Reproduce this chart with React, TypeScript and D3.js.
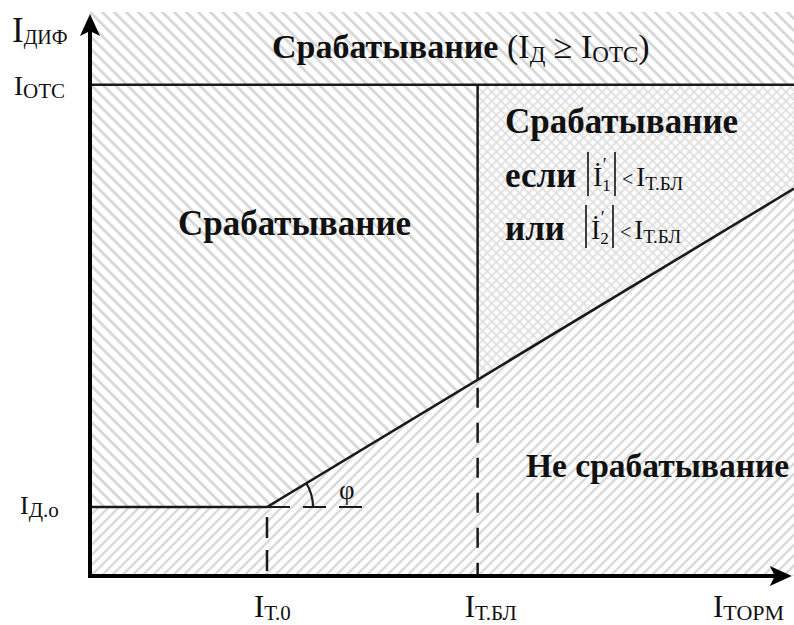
import React from "react";
import * as d3 from "d3";

const W = 794;
const H = 625;

// Characteristic parameters, in relative units of the restraint / differential current
const restraintKnees = [1.0, 2.19]; // IТ.0, IТ.БЛ
const diffLevels = [1.0, 7.12]; // IД.о, IОТС
const slopeK = 1.55; // tg φ in relative units
const axisTips = [3.965, 8.145]; // arrow tips of X and Y axes

const xTickLabels = [
  { value: 1.0, main: "I", sub: "Т.0" },
  { value: 2.19, main: "I", sub: "Т.БЛ" },
];
const yTickLabels = [
  { value: 1.0, main: "I", sub: "Д.о" },
  { value: 7.12, main: "I", sub: "ОТС" },
];

const FONT = "'Liberation Serif', 'Times New Roman', serif";

const x = d3.scaleLinear().domain([0, 4]).range([90, 798]);
const y = d3.scaleLinear().domain([0, 8]).range([576, 24]);

const charAt = (v: number) =>
  v <= restraintKnees[0] ? diffLevels[0] : diffLevels[0] + slopeK * (v - restraintKnees[0]);

function SubLabel(props: {
  px: number;
  py: number;
  main: string;
  sub: string;
  size: number;
  subSize: number;
  subDy: number;
}) {
  const { px, py, main, sub, size, subSize, subDy } = props;
  return (
    <text x={px} y={py} fontFamily={FONT} fontSize={size} fill="#111">
      <tspan>{main}</tspan>
      <tspan dy={subDy} fontSize={subSize}>
        {sub}
      </tspan>
    </text>
  );
}

export default function App() {
  const xEdge = x.invert(W);
  const yTop = y.invert(12);
  const [t0, tbl] = restraintKnees;
  const [d0, dOts] = diffLevels;

  const poly = d3
    .line<[number, number]>()
    .x((d) => x(d[0]))
    .y((d) => y(d[1]));

  const closed = (pts: [number, number][]) => poly(pts) + "Z";

  const topRegion: [number, number][] = [
    [0, dOts],
    [xEdge, dOts],
    [xEdge, yTop],
    [0, yTop],
  ];
  const leftRegion: [number, number][] = [
    [0, d0],
    [t0, d0],
    [tbl, charAt(tbl)],
    [tbl, dOts],
    [0, dOts],
  ];
  const crossRegion: [number, number][] = [
    [tbl, charAt(tbl)],
    [xEdge, charAt(xEdge)],
    [xEdge, dOts],
    [tbl, dOts],
  ];
  const lowRegion: [number, number][] = [
    [0, 0],
    [xEdge, 0],
    [xEdge, charAt(xEdge)],
    [t0, d0],
    [0, d0],
  ];

  const charLine: [number, number][] = [
    [0, d0],
    [t0, d0],
    [xEdge, charAt(xEdge)],
  ];

  // angle marker φ
  const cx = x(t0);
  const cy = y(d0);
  const ang = Math.atan2(y(charAt(t0 + 1)) - cy, x(t0 + 1) - cx);
  const r = 46;
  const arcPath = d3.path();
  arcPath.moveTo(cx + r * Math.cos(ang), cy + r * Math.sin(ang));
  arcPath.arc(cx, cy, r, ang, 0, false);

  const ox = x(0);
  const oy = y(0);
  const tipX = x(axisTips[0]);
  const tipY = y(axisTips[1]);

  const bars = (bx: number, top: number, bottom: number) => (
    <line x1={bx} x2={bx} y1={top} y2={bottom} stroke="#111" strokeWidth={1.6} />
  );

  return (
    <svg
      width={W}
      height={H}
      viewBox={`0 0 ${W} ${H}`}
      style={{ position: "absolute", left: 0, top: 0, background: "#fff" }}
    >
      <defs>
        <pattern id="hatchBack" width={8.5} height={10} patternUnits="userSpaceOnUse" patternTransform="rotate(-45)">
          <line x1={4.25} y1={-1} x2={4.25} y2={11} stroke="#d8d8d8" strokeWidth={2.8} />
        </pattern>
        <pattern id="hatchFwd" width={7.2} height={10} patternUnits="userSpaceOnUse" patternTransform="rotate(45)">
          <line x1={3.6} y1={-1} x2={3.6} y2={11} stroke="#d6d6d6" strokeWidth={2.3} />
        </pattern>
        <pattern id="hatchCross" width={6.5} height={6.5} patternUnits="userSpaceOnUse" patternTransform="rotate(45)">
          <line x1={3.25} y1={-1} x2={3.25} y2={7.5} stroke="#dedede" strokeWidth={1.8} />
          <line x1={-1} y1={3.25} x2={7.5} y2={3.25} stroke="#dedede" strokeWidth={1.8} />
        </pattern>
      </defs>

      {/* shaded zones */}
      <path d={closed(topRegion)} fill="url(#hatchBack)" />
      <path d={closed(leftRegion)} fill="url(#hatchBack)" />
      <path d={closed(crossRegion)} fill="url(#hatchCross)" />
      <path d={closed(lowRegion)} fill="url(#hatchFwd)" />

      {/* cut-off level */}
      <line x1={ox} x2={W} y1={y(dOts)} y2={y(dOts)} stroke="#1a1a1a" strokeWidth={2.5} />
      {/* blocking boundary */}
      <line x1={x(tbl)} x2={x(tbl)} y1={y(dOts)} y2={y(charAt(tbl))} stroke="#1a1a1a" strokeWidth={2.5} />
      <line
        x1={x(tbl)}
        x2={x(tbl)}
        y1={y(charAt(tbl))}
        y2={oy}
        stroke="#1a1a1a"
        strokeWidth={2.5}
        strokeDasharray="20,15"
        strokeDashoffset={-8}
      />
      <line
        x1={x(t0)}
        x2={x(t0)}
        y1={y(d0)}
        y2={oy}
        stroke="#1a1a1a"
        strokeWidth={2.5}
        strokeDasharray="21,12"
        strokeDashoffset={-10}
      />

      {/* operating characteristic */}
      <path d={poly(charLine) || ""} fill="none" stroke="#1a1a1a" strokeWidth={2.6} />

      {/* angle φ */}
      <line x1={cx} x2={cx + 96} y1={cy} y2={cy} stroke="#1a1a1a" strokeWidth={2.2} strokeDasharray="23,13" />
      <path d={arcPath.toString()} fill="none" stroke="#1a1a1a" strokeWidth={2.2} />
      <text x={339} y={499} fontFamily={FONT} fontSize={27} fill="#111">
        φ
      </text>

      {/* axes */}
      <line x1={ox} x2={tipX - 14} y1={oy} y2={oy} stroke="#000" strokeWidth={4} />
      <line x1={ox} x2={ox} y1={oy + 2} y2={tipY + 14} stroke="#000" strokeWidth={4} />
      <path d={`M${tipX},${oy} L${tipX - 22},${oy - 10} L${tipX - 17},${oy} L${tipX - 22},${oy + 10} Z`} fill="#000" />
      <path d={`M${ox},${tipY} L${ox - 10},${tipY + 22} L${ox},${tipY + 17} L${ox + 10},${tipY + 22} Z`} fill="#000" />

      {/* axis captions */}
      <SubLabel px={12} py={42} main="I" sub="ДИФ" size={35} subSize={20} subDy={2} />
      {yTickLabels.map((t, i) => (
        <SubLabel
          key={t.sub}
          px={i === 0 ? 20 : 14}
          py={y(t.value) + (i === 0 ? 7 : 10)}
          main={t.main}
          sub={t.sub}
          size={i === 0 ? 26 : 27}
          subSize={21}
          subDy={3}
        />
      ))}
      {xTickLabels.map((t) => (
        <SubLabel key={t.sub} px={x(t.value) - 13} py={617} main={t.main} sub={t.sub} size={31} subSize={21} subDy={3} />
      ))}
      <SubLabel px={713} py={617} main="I" sub="ТОРМ" size={31} subSize={22} subDy={3} />

      {/* zone captions */}
      <text x={272} y={58} fontFamily={FONT} fontSize={34} fill="#111">
        <tspan fontWeight="bold">Срабатывание</tspan>
        <tspan> (I</tspan>
        <tspan dy={4} fontSize={23}>Д</tspan>
        <tspan dy={-4}> ≥ I</tspan>
        <tspan dy={4} fontSize={23}>ОТС</tspan>
        <tspan dy={-4}>)</tspan>
      </text>
      <text x={178} y={235} fontFamily={FONT} fontSize={35} fontWeight="bold" fill="#111">
        Срабатывание
      </text>
      <text x={505} y={133} fontFamily={FONT} fontSize={35} fontWeight="bold" fill="#111">
        Срабатывание
      </text>
      <text x={505} y={187} fontFamily={FONT} fontSize={35} fontWeight="bold" fill="#111">
        если
      </text>
      <text x={505} y={240} fontFamily={FONT} fontSize={35} fontWeight="bold" fill="#111">
        или
      </text>
      {bars(588, 152, 196)}
      {bars(615, 152, 196)}
      {bars(586, 205, 248)}
      {bars(613, 205, 248)}
      <text x={593} y={186} fontFamily={FONT} fontSize={28} fill="#111">
        <tspan>İ</tspan>
        <tspan dy={5} fontSize={17}>1</tspan>
        <tspan dx={-8} dy={-20} fontSize={18}>′</tspan>
        <tspan x={622} dy={15} fontSize={20}>{"<"}</tspan>
        <tspan dx={3} fontSize={27}>I</tspan>
        <tspan dy={4} fontSize={19}>Т.БЛ</tspan>
      </text>
      <text x={591} y={239} fontFamily={FONT} fontSize={28} fill="#111">
        <tspan>İ</tspan>
        <tspan dy={5} fontSize={17}>2</tspan>
        <tspan dx={-8} dy={-20} fontSize={18}>′</tspan>
        <tspan x={620} dy={15} fontSize={20}>{"<"}</tspan>
        <tspan dx={3} fontSize={27}>I</tspan>
        <tspan dy={4} fontSize={19}>Т.БЛ</tspan>
      </text>
      <text x={526} y={477} fontFamily={FONT} fontSize={33.5} fontWeight="bold" fill="#111">
        Не срабатывание
      </text>
    </svg>
  );
}
